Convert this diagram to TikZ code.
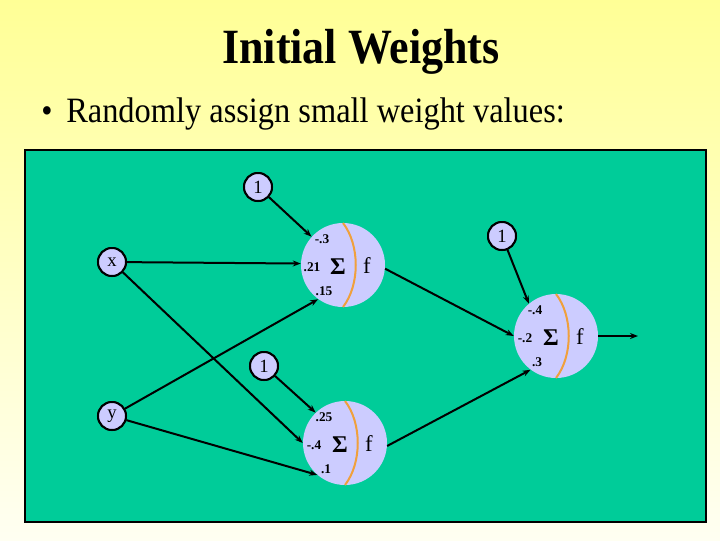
\documentclass[tikz,border=0pt]{standalone}
\usepackage{fontspec}
\setmainfont{Liberation Serif}
\usetikzlibrary{arrows.meta,calc}
\definecolor{panelgreen}{RGB}{0,204,153}
\definecolor{lav}{RGB}{204,204,255}
\definecolor{orng}{RGB}{240,160,60}
\definecolor{bgtop}{RGB}{255,255,150}
\definecolor{bgbot}{RGB}{255,255,242}
\tikzset{
  inp/.style={circle,draw=black,line width=1.5pt,fill=lav,minimum size=21pt,inner sep=0pt,font=\fontsize{14}{14}\selectfont},
  neur/.style={circle,fill=lav,minimum size=63pt,inner sep=0pt},
  wlab/.style={font=\fontsize{10}{10}\selectfont\bfseries,inner sep=0pt},
  conn/.style={line width=1.5pt,-{Stealth[length=6pt,width=4.5pt]}},
  divider/.style={orng,line width=1.5pt},
}
\newcommand\myneuron[6]{%
  \node[neur] (#1) at (#2,#3) {};
  \draw[divider] ($(#1)+(0,-42)$) .. controls ($(#1)+(17,-20)$) and ($(#1)+(17,20)$) .. ($(#1)+(0,42)$);
  \node[font=\fontsize{18}{18}\selectfont\bfseries,inner sep=0pt] at ($(#1)+(-5,2)$) {Σ};
  \node[font=\fontsize{17}{17}\selectfont,inner sep=0pt] at ($(#1)+(24,1)$) {f};
  \node[wlab] at ($(#1)+(-21,-26)$) {#4};
  \node[wlab] at ($(#1)+(-31,2)$) {#5};
  \node[wlab] at ($(#1)+(-19,26)$) {#6};
}
\begin{document}
\begin{tikzpicture}[x=0.75pt,y=-0.75pt]
\useasboundingbox (0,0) rectangle (720,540);
\shade[top color=bgtop,bottom color=bgbot] (0,0) rectangle (720,540);
\node[anchor=base,inner sep=0pt] (title) at (361,63) {\scalebox{1}[1.12]{\fontsize{33}{33}\selectfont\bfseries Initial Weights}};
\node[anchor=base,inner sep=0pt] (bul) at (47,122) {\scalebox{1}[1.1]{\fontsize{24}{24}\selectfont •}};
\node[anchor=base west,inner sep=0pt] (btext) at (66,122) {\scalebox{1}[1.1]{\fontsize{24.3}{24}\selectfont Randomly assign small weight values:}};
\draw[fill=panelgreen,line width=0.8pt] (25,150) rectangle (706,522);
% neurons
\myneuron{n1}{343}{265}{-.3}{.21}{.15}
\myneuron{n2}{556}{336}{-.4}{-.2}{.3}
\myneuron{n3}{345}{443}{.25}{-.4}{.1}
% inputs
\node[inp] (b1) at (258,187) {1};
\node[inp] (x) at (112,262) {x};
\node[inp] (b2) at (502,236) {1};
\node[inp] (b3) at (264,366) {1};
\node[inp] (y) at (112,416) {y};
\coordinate (out) at (638,336);
% connectors
\draw[conn] (b1) -- (n1.138);
\draw[conn] (x) -- (n1.178);
\draw[conn] (y) -- (n1.234);
\draw[conn] (b2) -- (n2.130);
\draw[conn] (n1.-5) -- (n2.180);
\draw[conn] (n3.-4) -- (n2.233);
\draw[conn] (b3) -- (n3.134);
\draw[conn] (x) -- (n3.180);
\draw[conn] (y) -- (n3.229);
\draw[conn] (n2.east) -- (out);
% redraw input circles on top
\node[inp] at (b1) {1};
\node[inp] at (x) {x};
\node[inp] at (b2) {1};
\node[inp] at (b3) {1};
\node[inp] at (y) {y};
\end{tikzpicture}
\end{document}
